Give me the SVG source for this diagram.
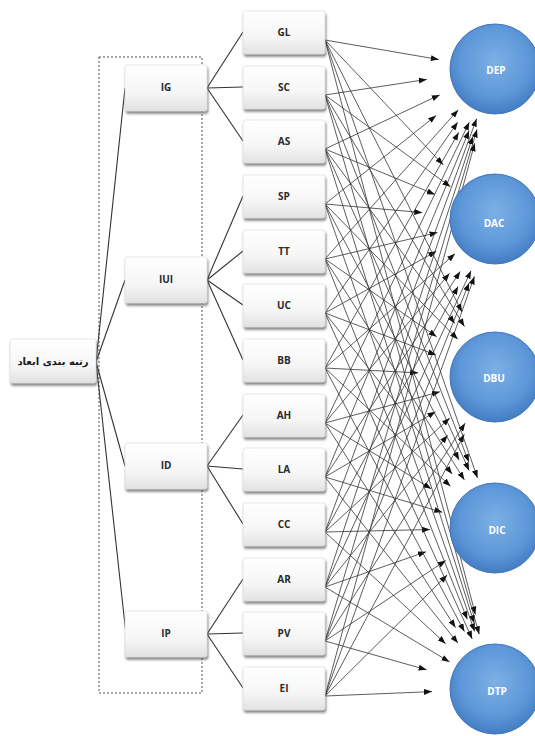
<svg xmlns="http://www.w3.org/2000/svg" width="535" height="736" viewBox="0 0 535 736">
<style>
.box{fill:url(#bg);stroke:#d8d8d8;stroke-width:0.6;filter:url(#sh)}
.t{font-family:"Open Sans","Liberation Sans",sans-serif;font-weight:bold;font-size:10px;fill:#2a2a2a;text-anchor:middle;dominant-baseline:central}
.rt{font-family:"DejaVu Sans",sans-serif;font-weight:bold;font-size:10px;fill:#1a1a1a;text-anchor:middle;dominant-baseline:central}
.ct{font-family:"Open Sans","Liberation Sans",sans-serif;font-weight:bold;font-size:10px;fill:#ffffff;text-anchor:middle;dominant-baseline:central}
.c{fill:url(#cg);stroke:#3f76bb;stroke-width:1}
.tree line{stroke:#333;stroke-width:1.1}
.arr line{stroke:#333;stroke-width:0.8;marker-end:url(#ah)}
</style>
<defs>
<linearGradient id="bg" x1="0" y1="0" x2="0" y2="1">
<stop offset="0" stop-color="#ffffff"/><stop offset="0.6" stop-color="#f6f6f6"/><stop offset="1" stop-color="#e2e2e2"/>
</linearGradient>
<radialGradient id="cg" cx="0.5" cy="0.42" r="0.6">
<stop offset="0" stop-color="#7cb0e6"/><stop offset="0.65" stop-color="#5d97d8"/><stop offset="1" stop-color="#4079c0"/>
</radialGradient>
<filter id="sh" x="-10%" y="-10%" width="130%" height="140%">
<feDropShadow dx="1" dy="2.5" stdDeviation="1.2" flood-color="#444" flood-opacity="0.65"/>
</filter>
<marker id="ah" viewBox="0 0 8 6" refX="8" refY="3" markerWidth="8" markerHeight="6" markerUnits="userSpaceOnUse" orient="auto">
<path d="M0,0 L8,3 L0,6 z" fill="#111"/>
</marker>
</defs>
<rect x="99" y="57" width="103" height="636" fill="none" stroke="#555" stroke-width="1" stroke-dasharray="2 2"/>
<g id="connectors">
<g class="tree">
<line x1="96" y1="362" x2="125" y2="88"/>
<line x1="96" y1="362" x2="125" y2="280"/>
<line x1="96" y1="362" x2="125" y2="466"/>
<line x1="96" y1="362" x2="126" y2="634"/>
<line x1="207" y1="88" x2="243" y2="32"/>
<line x1="207" y1="88" x2="243" y2="87"/>
<line x1="207" y1="88" x2="243" y2="141"/>
<line x1="207" y1="280" x2="243" y2="196"/>
<line x1="207" y1="280" x2="243" y2="251"/>
<line x1="207" y1="280" x2="243" y2="305"/>
<line x1="207" y1="280" x2="243" y2="360"/>
<line x1="207" y1="466" x2="243" y2="415"/>
<line x1="207" y1="466" x2="243" y2="469"/>
<line x1="207" y1="466" x2="243" y2="524"/>
<line x1="207" y1="634" x2="243" y2="579"/>
<line x1="207" y1="634" x2="243" y2="633"/>
<line x1="207" y1="634" x2="243" y2="688"/>
</g>
<g class="arr">
<line x1="325" y1="40" x2="438.8" y2="59.5"/>
<line x1="325" y1="95" x2="426.8" y2="79.4"/>
<line x1="325" y1="149" x2="439.7" y2="94.9"/>
<line x1="325" y1="204" x2="436.1" y2="115.5"/>
<line x1="325" y1="259" x2="458.2" y2="109.9"/>
<line x1="325" y1="313" x2="457.7" y2="122.2"/>
<line x1="325" y1="368" x2="458.7" y2="132.4"/>
<line x1="325" y1="423" x2="469.3" y2="122.2"/>
<line x1="325" y1="477" x2="469.1" y2="130.8"/>
<line x1="325" y1="532" x2="476.6" y2="118.7"/>
<line x1="325" y1="587" x2="472.8" y2="136.4"/>
<line x1="325" y1="641" x2="477" y2="129.4"/>
<line x1="325" y1="696" x2="474.7" y2="143.3"/>

<line x1="325" y1="40" x2="443.2" y2="164.8"/>
<line x1="325" y1="95" x2="450.4" y2="186.7"/>
<line x1="325" y1="149" x2="434.9" y2="194.4"/>
<line x1="325" y1="204" x2="422.3" y2="212.6"/>
<line x1="325" y1="259" x2="437.5" y2="232.5"/>
<line x1="325" y1="313" x2="436.3" y2="251.3"/>
<line x1="325" y1="368" x2="455" y2="253.8"/>
<line x1="325" y1="423" x2="449.4" y2="273.4"/>
<line x1="325" y1="477" x2="460.2" y2="271.5"/>
<line x1="325" y1="532" x2="458.1" y2="286.5"/>
<line x1="325" y1="587" x2="471" y2="270.7"/>
<line x1="325" y1="641" x2="469.1" y2="283"/>
<line x1="325" y1="696" x2="474.4" y2="276.4"/>

<line x1="325" y1="40" x2="462" y2="311.9"/>
<line x1="325" y1="95" x2="464.4" y2="326.6"/>
<line x1="325" y1="149" x2="454.8" y2="323.4"/>
<line x1="325" y1="204" x2="457.7" y2="339.3"/>
<line x1="325" y1="259" x2="436.6" y2="336.7"/>
<line x1="325" y1="313" x2="436" y2="354.9"/>
<line x1="325" y1="368" x2="418.1" y2="372.9"/>
<line x1="325" y1="423" x2="439.9" y2="391.8"/>
<line x1="325" y1="477" x2="435.5" y2="411.8"/>
<line x1="325" y1="532" x2="449.8" y2="418"/>
<line x1="325" y1="587" x2="447.6" y2="435.2"/>
<line x1="325" y1="641" x2="465.1" y2="423.2"/>
<line x1="325" y1="696" x2="464.3" y2="434.3"/>

<line x1="325" y1="40" x2="477.5" y2="478"/>
<line x1="325" y1="95" x2="468.9" y2="462"/>
<line x1="325" y1="149" x2="469.1" y2="470.5"/>
<line x1="325" y1="204" x2="459.1" y2="459.9"/>
<line x1="325" y1="259" x2="464.4" y2="479.9"/>
<line x1="325" y1="313" x2="452.1" y2="474"/>
<line x1="325" y1="368" x2="450.5" y2="486.3"/>
<line x1="325" y1="423" x2="431.1" y2="488.8"/>
<line x1="325" y1="477" x2="442.3" y2="512.3"/>
<line x1="325" y1="532" x2="430" y2="529.5"/>
<line x1="325" y1="587" x2="426" y2="551.8"/>
<line x1="325" y1="641" x2="445.8" y2="560.5"/>
<line x1="325" y1="696" x2="447.2" y2="575"/>

<line x1="325" y1="40" x2="475.4" y2="614.5"/>
<line x1="325" y1="95" x2="479.2" y2="634.2"/>
<line x1="325" y1="149" x2="474.2" y2="623.2"/>
<line x1="325" y1="204" x2="474.7" y2="631.5"/>
<line x1="325" y1="259" x2="467.3" y2="619.3"/>
<line x1="325" y1="313" x2="472.2" y2="638.9"/>
<line x1="325" y1="368" x2="464.4" y2="631.6"/>
<line x1="325" y1="423" x2="455.5" y2="627.6"/>
<line x1="325" y1="477" x2="457.9" y2="643.1"/>
<line x1="325" y1="532" x2="445.6" y2="643.7"/>
<line x1="325" y1="587" x2="449.5" y2="661.9"/>
<line x1="325" y1="641" x2="426.6" y2="669.8"/>
<line x1="325" y1="696" x2="432" y2="691.6"/>
</g>
</g>

<g id="root"><rect class="box" x="10" y="339" width="86" height="44" rx="2"/><text x="53" y="361" class="rt" direction="rtl">رتبه بندی ابعاد</text></g>

<g id="IG"><rect class="box" x="125" y="65" width="82" height="46" rx="2"/><text class="t" x="166" y="87">IG</text></g>
<g id="IUI"><rect class="box" x="125" y="257" width="82" height="46" rx="2"/><text class="t" x="166" y="279">IUI</text></g>
<g id="ID"><rect class="box" x="125" y="443" width="82" height="46" rx="2"/><text class="t" x="166" y="465">ID</text></g>
<g id="IP"><rect class="box" x="125" y="611" width="82" height="46" rx="2"/><text class="t" x="166" y="633">IP</text></g>

<g id="GL"><rect class="box" x="243" y="11" width="82" height="43" rx="2"/><text class="t" x="284" y="32">GL</text></g>
<g id="SC"><rect class="box" x="243" y="66" width="82" height="43" rx="2"/><text class="t" x="284" y="87">SC</text></g>
<g id="AS"><rect class="box" x="243" y="120" width="82" height="43" rx="2"/><text class="t" x="284" y="141">AS</text></g>
<g id="SP"><rect class="box" x="243" y="175" width="82" height="43" rx="2"/><text class="t" x="284" y="196">SP</text></g>
<g id="TT"><rect class="box" x="243" y="230" width="82" height="43" rx="2"/><text class="t" x="284" y="251">TT</text></g>
<g id="UC"><rect class="box" x="243" y="284" width="82" height="43" rx="2"/><text class="t" x="284" y="305">UC</text></g>
<g id="BB"><rect class="box" x="243" y="339" width="82" height="43" rx="2"/><text class="t" x="284" y="360">BB</text></g>
<g id="AH"><rect class="box" x="243" y="394" width="82" height="43" rx="2"/><text class="t" x="284" y="415">AH</text></g>
<g id="LA"><rect class="box" x="243" y="448" width="82" height="43" rx="2"/><text class="t" x="284" y="469">LA</text></g>
<g id="CC"><rect class="box" x="243" y="503" width="82" height="43" rx="2"/><text class="t" x="284" y="524">CC</text></g>
<g id="AR"><rect class="box" x="243" y="558" width="82" height="43" rx="2"/><text class="t" x="284" y="579">AR</text></g>
<g id="PV"><rect class="box" x="243" y="612" width="82" height="43" rx="2"/><text class="t" x="284" y="633">PV</text></g>
<g id="EI"><rect class="box" x="243" y="667" width="82" height="43" rx="2"/><text class="t" x="284" y="688">EI</text></g>

<g id="DEP"><circle class="c" cx="495" cy="69" r="45"/><text class="ct" x="496" y="70">DEP</text></g>
<g id="DAC"><circle class="c" cx="495" cy="219" r="45"/><text class="ct" x="494" y="223">DAC</text></g>
<g id="DBU"><circle class="c" cx="495" cy="377" r="45"/><text class="ct" x="494" y="378">DBU</text></g>
<g id="DIC"><circle class="c" cx="495" cy="528" r="45"/><text class="ct" x="497" y="530">DIC</text></g>
<g id="DTP"><circle class="c" cx="495" cy="689" r="45"/><text class="ct" x="497" y="691">DTP</text></g>
</svg>
